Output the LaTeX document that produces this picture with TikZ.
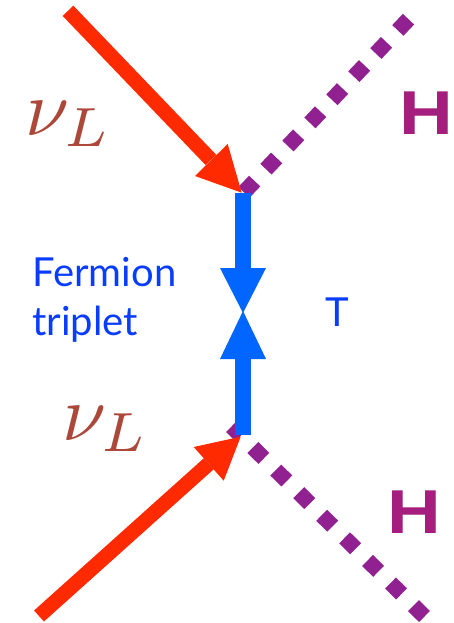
\documentclass[tikz,border=0pt]{standalone}
\usepackage{fontspec}
\setmainfont{Lato}
\newfontfamily\boldH{Liberation Sans}
\usepackage{amsmath}
\usepackage{graphicx}
\definecolor{fred}{RGB}{255,42,0}
\definecolor{fblue}{RGB}{0,102,255}
\definecolor{tblue}{RGB}{8,60,255}
\definecolor{fpurple}{RGB}{145,32,145}
\definecolor{hpurple}{RGB}{165,30,125}
\definecolor{nured}{RGB}{172,72,58}
\tikzset{
 x=1pt,y=-1pt,
 fermion/.style={line width=14.8pt,fred},
 triplet/.style={line width=16pt,fblue},
 higgs/.style={line width=15.5pt,fpurple,dash pattern=on 15.5pt off #1},
 higgs/.default=16.4pt,
 lbl/.style={inner sep=0pt,tblue,font=\fontsize{40}{49}\selectfont},
 hlbl/.style={inner sep=0pt,hpurple,font=\boldH\bfseries\fontsize{62}{62}\selectfont},
 nulbl/.style={inner sep=0pt,nured}
}
\begin{document}
\begin{tikzpicture}
\useasboundingbox (0,0) rectangle (453,623);
\coordinate (v1) at (243.5,192.8);
\coordinate (v2) at (231.5,426.5);
\coordinate (h1) at (408.5,19.2);
\coordinate (h2) at (424.5,616.5);
\coordinate (f1) at (68,10.8);
\coordinate (f1b) at (211,160);
\coordinate (f2) at (39,616);
\coordinate (f2b) at (208.7,463.8);
\draw[higgs] (h1) -- (v1);
\draw[higgs=16.7pt] (h2) -- (v2);
\draw[triplet] (243,192.7) -- (243,270);
\draw[triplet] (243,435) -- (243,357);
\fill[fblue] (243,313) -- (220,268) -- (266,268) -- cycle;
\fill[fblue] (243,311) -- (220,359) -- (266,359) -- cycle;
\draw[fermion] (f1) -- (f1b);
\fill[fred] (241.7,192.7) -- (195,176) -- (227.7,144) -- cycle;
\draw[fermion] (f2) -- (f2b);
\fill[fred] (240.7,436.7) -- (193.7,447) -- (223.7,480.7) -- cycle;
\node[nulbl] (n1) at (69,124) {\scalebox{7.9}{$\nu_L$}};
\node[nulbl] (n2) at (106,429) {\scalebox{7.9}{$\nu_L$}};
\node[hlbl] (H1) at (426.5,113.5) {\scalebox{1.2}[1]{H}};
\node[hlbl] (H2) at (414,512.5) {\scalebox{1.2}[1]{H}};
\node[lbl,align=left,anchor=west] (ft) at (32,300) {Fermion\\triplet};
\node[lbl] (T) at (337,312) {T};
\end{tikzpicture}
\end{document}
